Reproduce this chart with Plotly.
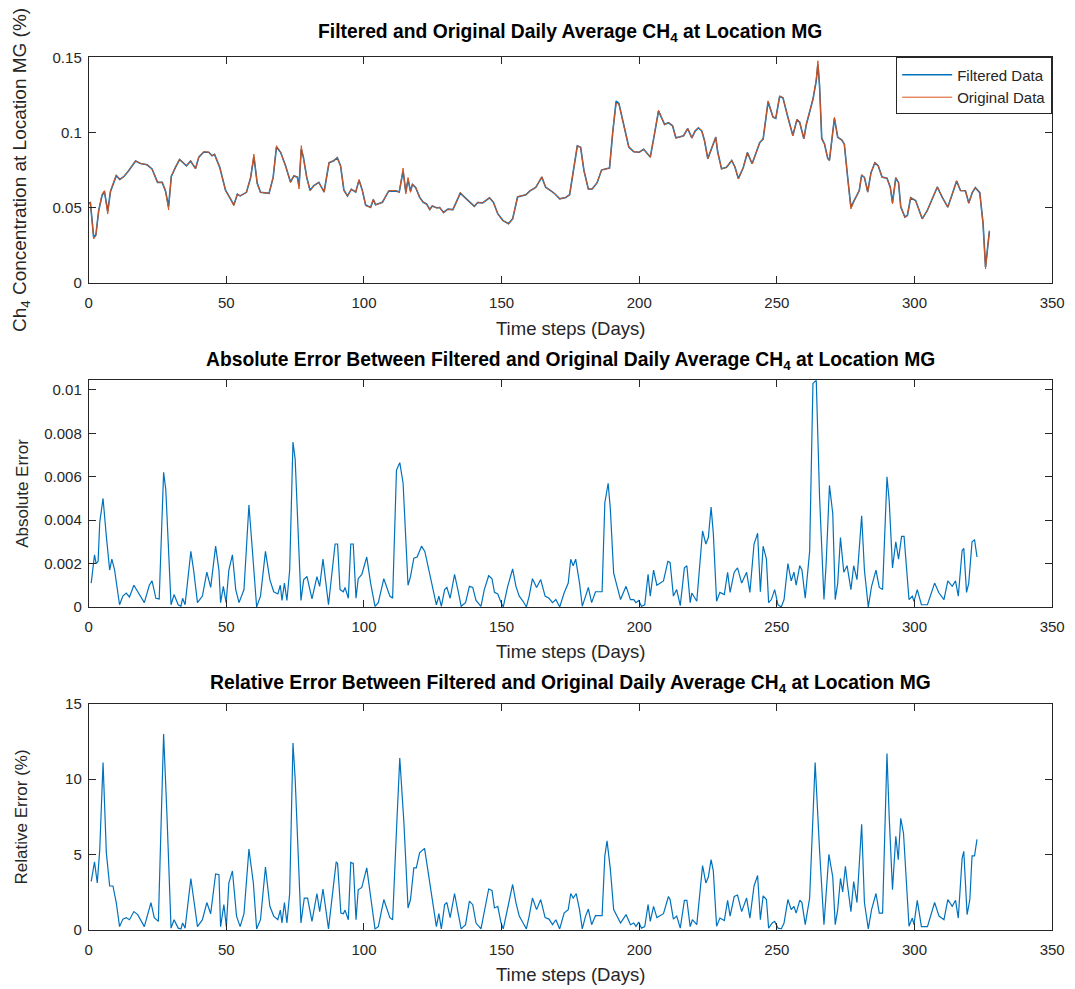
import plotly.graph_objects as go

# ---------------- data ----------------
days_top = [0, 0.6, 1.8, 2.6, 3.6, 4.8, 5.7, 6.9, 7.9, 9.1, 10, 11.3, 12.7, 14.5, 17, 18.8, 21.2, 23, 25, 26.7,
            27.9, 29, 30, 31.5, 33, 35.5, 37, 38.8, 40, 41.8, 43.6, 44.8, 45.7, 47.6, 49.7, 51.5, 52.7, 54, 55, 57.3,
            58.8, 60, 61.2, 62.4, 65.5, 67, 68.2, 69.7, 71.5, 73.3, 74.5, 75.8, 76.4, 77.2, 78, 79.2, 80.4, 81.8, 83.6, 85.5,
            87.3, 89, 90.3, 91.5, 92.7, 94, 95.4, 97, 98.2, 99.4, 100.6, 102.4, 103.4, 104.2, 106.7, 109, 111.8, 112.8, 114.2, 115.2,
            116, 116.9, 117.6, 118.8, 120.2, 121.5, 122.7, 123.9, 124.8, 126.3, 127.5, 128.9, 130.5, 132.3, 133.5, 135, 136.5, 138.3, 140.1, 141.3,
            143.1, 145.6, 147, 148.6, 150.4, 152.5, 154, 155.8, 157.6, 158.8, 160.3, 162.4, 164.6, 166, 167.8, 169.4, 171.1, 173.3, 174.7, 176.3,
            177.5, 178.7, 179.9, 181.5, 182.9, 184.7, 186.3, 187.7, 189.2, 190.4, 191.6, 192.6, 194.4, 196.2, 198, 200, 201.6, 204, 205.4, 207,
            209.2, 210.6, 212.1, 213.3, 214.9, 216.1, 217.6, 219.1, 220.3, 221.5, 222.7, 223.7, 224.9, 226.1, 227.8, 228.5, 229.9, 231.7, 233.6, 234.8,
            236, 237.8, 239.3, 241, 242.6, 243.8, 245, 246.8, 248.6, 249.6, 251, 252.2, 254, 255.8, 257.3, 258.3, 259.8, 260.7, 263.1, 264.3,
            264.9, 265.5, 266.3, 267.3, 268.5, 269.1, 270.9, 272.1, 273.6, 274.5, 275.7, 276.9, 278.1, 279.9, 280.8, 281.8, 283, 284.2, 285.6, 286.8,
            288.2, 290, 291.2, 292, 293.2, 294.2, 295, 296.5, 297.4, 298.6, 300.4, 302.8, 304.6, 306.5, 308.3, 310.1, 312.1, 313.7, 315.3, 316.7,
            318.5, 319.7, 321, 322.1, 323.7, 324.9, 325.8, 327.2]

ch4_original = [0.053, 0.0538, 0.0294, 0.0316, 0.048, 0.059, 0.0615, 0.046, 0.0615, 0.067, 0.072, 0.069, 0.0708, 0.0748, 0.0814, 0.0796, 0.0787, 0.0759, 0.067, 0.067,
                0.0615, 0.0487, 0.0714, 0.077, 0.0825, 0.078, 0.0814, 0.0759, 0.084, 0.0874, 0.087, 0.0847, 0.0858, 0.077, 0.0615, 0.056, 0.0515, 0.0593, 0.058, 0.0604,
                0.0703, 0.0858, 0.066, 0.0604, 0.0597, 0.0703, 0.0914, 0.087, 0.078, 0.067, 0.0714, 0.0708, 0.0626, 0.0914, 0.0836, 0.0703, 0.0615, 0.0648, 0.067, 0.0604,
                0.0803, 0.0814, 0.0836, 0.078, 0.0615, 0.058, 0.0626, 0.0604, 0.069, 0.0615, 0.0515, 0.0504, 0.056, 0.052, 0.0538, 0.0615, 0.0615, 0.0604, 0.0765, 0.0593,
                0.0703, 0.0604, 0.066, 0.0637, 0.057, 0.0538, 0.0527, 0.0487, 0.0515, 0.05, 0.0504, 0.0467, 0.0493, 0.0487, 0.0538, 0.0604, 0.057, 0.0538, 0.0509, 0.0538,
                0.0533, 0.057, 0.0538, 0.046, 0.0416, 0.0394, 0.0427, 0.0575, 0.0582, 0.0588, 0.0615, 0.0637, 0.0708, 0.0637, 0.0615, 0.0593, 0.056, 0.057, 0.0588, 0.077,
                0.0914, 0.0903, 0.0748, 0.0626, 0.0626, 0.067, 0.0752, 0.0759, 0.0765, 0.1013, 0.1195, 0.119, 0.1057, 0.0903, 0.0874, 0.087, 0.0891, 0.0836, 0.098, 0.115,
                0.1053, 0.1068, 0.1046, 0.0964, 0.0973, 0.098, 0.103, 0.0964, 0.1013, 0.1035, 0.1013, 0.0947, 0.0825, 0.0891, 0.0973, 0.087, 0.0759, 0.077, 0.0818, 0.077,
                0.0692, 0.077, 0.087, 0.0792, 0.087, 0.0936, 0.0958, 0.1212, 0.1102, 0.1095, 0.1245, 0.1234, 0.1102, 0.098, 0.109, 0.1068, 0.0958, 0.1057, 0.1223, 0.1356,
                0.1478, 0.1312, 0.0958, 0.0925, 0.0825, 0.0814, 0.1102, 0.0969, 0.0951, 0.0925, 0.0703, 0.0493, 0.0549, 0.0615, 0.0721, 0.0703, 0.0604, 0.0737, 0.0803, 0.0781,
                0.0703, 0.0699, 0.0637, 0.0527, 0.0703, 0.067, 0.0504, 0.0438, 0.0449, 0.057, 0.0549, 0.0427, 0.0482, 0.056, 0.0641, 0.057, 0.0504, 0.0593, 0.0681, 0.0615,
                0.0615, 0.0531, 0.0604, 0.0637, 0.0604, 0.0394, 0.0095, 0.035]

ch4_filtered = [0.053, 0.0535, 0.0305, 0.0322, 0.048, 0.058, 0.061, 0.0478, 0.061, 0.067, 0.0715, 0.069, 0.0708, 0.0748, 0.0812, 0.0796, 0.0787, 0.0759, 0.067, 0.067,
                0.0612, 0.051, 0.071, 0.077, 0.0822, 0.078, 0.0812, 0.0762, 0.0838, 0.0872, 0.087, 0.0847, 0.0856, 0.077, 0.0618, 0.056, 0.052, 0.0592, 0.058, 0.0604,
                0.070, 0.084, 0.0665, 0.0604, 0.0597, 0.0703, 0.0905, 0.087, 0.078, 0.0672, 0.0712, 0.0705, 0.0645, 0.089, 0.0836, 0.0703, 0.0618, 0.0648, 0.067, 0.0607,
                0.080, 0.0814, 0.0834, 0.078, 0.0618, 0.058, 0.0624, 0.0606, 0.0685, 0.0617, 0.052, 0.0504, 0.0555, 0.0522, 0.0538, 0.0613, 0.0612, 0.0606, 0.0745, 0.0605,
                0.069, 0.0612, 0.0656, 0.0635, 0.0572, 0.0538, 0.0527, 0.049, 0.0513, 0.0502, 0.0503, 0.047, 0.0492, 0.0489, 0.0536, 0.0598, 0.0572, 0.0538, 0.0511, 0.0536,
                0.0534, 0.0568, 0.0538, 0.0462, 0.0418, 0.0396, 0.0428, 0.0573, 0.0582, 0.0588, 0.0614, 0.0637, 0.0705, 0.0638, 0.0615, 0.0593, 0.0561, 0.057, 0.0588, 0.0768,
                0.0912, 0.0903, 0.075, 0.0626, 0.0626, 0.0668, 0.0752, 0.0759, 0.0765, 0.1008, 0.121, 0.1195, 0.1055, 0.0905, 0.0874, 0.087, 0.089, 0.0838, 0.0978, 0.1144,
                0.1055, 0.1066, 0.1046, 0.0966, 0.0973, 0.098, 0.1027, 0.0966, 0.1011, 0.1033, 0.1012, 0.0948, 0.0828, 0.0889, 0.097, 0.0872, 0.076, 0.077, 0.0816, 0.0771,
                0.0695, 0.0769, 0.0868, 0.0794, 0.0868, 0.0935, 0.0958, 0.1205, 0.1104, 0.1096, 0.124, 0.1232, 0.1103, 0.0982, 0.1087, 0.1068, 0.096, 0.1055, 0.1222, 0.1345,
                0.1455, 0.1315, 0.0962, 0.0925, 0.0828, 0.0818, 0.1095, 0.097, 0.0951, 0.0924, 0.0706, 0.0505, 0.055, 0.0614, 0.0718, 0.0703, 0.0608, 0.0735, 0.08, 0.0781,
                0.0705, 0.0698, 0.0638, 0.0535, 0.07, 0.0668, 0.0508, 0.044, 0.045, 0.0568, 0.055, 0.0428, 0.0482, 0.056, 0.0639, 0.0571, 0.0506, 0.0592, 0.0679, 0.0616,
                0.0614, 0.0533, 0.0603, 0.0635, 0.0602, 0.0398, 0.0108, 0.0345]

days_abs = [0.9, 2.1, 2.7, 3.4, 4.0, 5.2, 6.4, 7.6, 8.4, 9.4, 11.2, 12.4, 13.6, 14.8, 16.4, 17.8, 20.2, 22, 23, 24.4,
            25.6, 27.2, 28, 29.9, 31, 32.5, 33.5, 34.1, 35, 37.1, 38.1, 39.5, 41.3, 42.9, 44.3, 46.1, 47.3, 47.9, 48.9, 49.9,
            50.9, 52.2, 53.4, 54.6, 56.4, 58.2, 59.4, 61, 62.4, 64.2, 65.8, 67.2, 68.7, 69.6, 70.2, 71.1, 72, 73, 74.2, 75,
            77.1, 78.1, 79.3, 81.1, 82.9, 83.9, 85.1, 87.1, 89.5, 90.4, 91.3, 92.5, 93.1, 94.3, 95.2, 96.1, 97.1, 97.9, 99.2, 101,
            102.4, 104, 105.2, 107.2, 109.4, 110.4, 111.8, 113, 114.2, 116, 116.9, 118.1, 119.3, 120.9, 122.1, 123.9, 125.3, 126.3, 127.2, 128.1,
            129.3, 130.1, 131.3, 132.9, 134.1, 135.3, 136.9, 138.3, 139.5, 140.7, 142.5, 143.7, 145.3, 146.5, 147.4, 148.6, 149.8, 150.6, 152.2, 154,
            155.2, 156.4, 157.8, 159, 160, 161.2, 162.7, 164.2, 165.8, 167.2, 168.5, 169.7, 171.1, 172.7, 174.2, 175.1, 176, 176.9, 178.3, 179.3,
            180.5, 181.5, 182.7, 184.1, 186.5, 187.5, 188.7, 189.5, 190.7, 192, 193.2, 195.2, 196.8, 198, 198.8, 199.8, 200.8, 202, 203.2, 204,
            205.2, 206.4, 208.8, 210.4, 211.2, 212.4, 213.6, 214.9, 216.4, 217.3, 218.5, 219.1, 220.9, 223, 224.2, 225.1, 226.1, 226.9, 228.1, 229.3,
            230.9, 232.1, 233, 234.5, 235.7, 237.2, 239, 240.2, 241.7, 243, 244, 245, 246.2, 247, 248, 249.2, 250.4, 251.6, 252.6, 254,
            255.2, 256.2, 257, 258.3, 259.1, 260.3, 261.9, 263.1, 264.3, 265.5, 267.1, 267.9, 269.1, 270.3, 271.2, 272.1, 273.1, 274.3, 275.5, 276.9,
            277.9, 279.1, 280.8, 281.8, 283.2, 284.4, 286, 287.2, 288.4, 290, 290.8, 292, 293.2, 294.2, 295.3, 296.2, 298, 299.2, 299.8, 301,
            302.5, 304.7, 307.3, 308.9, 310.7, 312.1, 313.7, 314.9, 315.9, 317.3, 317.9, 318.9, 319.7, 320.9, 321.8, 322.7]

abs_error = [0.0011, 0.0024, 0.002, 0.0021, 0.0039, 0.005, 0.00325, 0.0017, 0.0022, 0.0017, 0.0001, 0.0005, 0.00064, 0.00046, 0.001, 0.0007, 0.0002, 0.001, 0.0012, 0.0004,
             0.00037, 0.0062, 0.0054, 0.0001, 0.00057, 0.0001, 0.00003, 0.0004, 0.0001, 0.00256, 0.0017, 0.0002, 0.0005, 0.0016, 0.0009, 0.0028, 0.0017, 0.0002, 0.00095, 0.0002,
             0.0017, 0.0024, 0.0008, 0.0002, 0.0008, 0.0047, 0.00248, 0.0, 0.0005, 0.00256, 0.00126, 0.0007, 0.0006, 0.001, 0.0003, 0.0011, 0.0003, 0.0017, 0.0076, 0.0068,
             0.0003, 0.00126, 0.0014, 0.00037, 0.0014, 0.00095, 0.0022, 0.0001, 0.0029, 0.0029, 0.0008, 0.0007, 0.0009, 0.0004, 0.0029, 0.0029, 0.0004, 0.0013, 0.0015, 0.0023,
             0.0011, 0.00003, 0.0002, 0.0013, 0.0005, 0.0004, 0.0063, 0.00665, 0.0057, 0.001, 0.0014, 0.00225, 0.0023, 0.0028, 0.00256, 0.00156, 0.0008, 0.0001, 0.0005, 0.00003,
             0.0008, 0.0009, 0.0004, 0.0015, 0.0008, 0.00003, 0.0002, 0.00095, 0.0009, 0.0003, 0.00003, 0.0008, 0.00144, 0.0013, 0.00067, 0.0006, 0.0002, 0.0, 0.00095, 0.00175,
             0.00095, 0.0005, 0.00026, 0.0, 0.0005, 0.0013, 0.0009, 0.00126, 0.0005, 0.0004, 0.0002, 0.00034, 0.0, 0.00064, 0.0011, 0.0022, 0.0019, 0.0022, 0.0011, 0.00003,
             0.0005, 0.0009, 0.0002, 0.0007, 0.0007, 0.0048, 0.0057, 0.0045, 0.00156, 0.00095, 0.00034, 0.00095, 0.00034, 0.00034, 0.0002, 0.0003, 0.00003, 0.0001, 0.0015, 0.0005,
             0.0017, 0.001, 0.0012, 0.0021, 0.00205, 0.0005, 0.0008, 0.00006, 0.0018, 0.0019, 0.0002, 0.00064, 0.00026, 0.0035, 0.0029, 0.0032, 0.0046, 0.0034, 0.00026, 0.00067,
             0.00057, 0.0016, 0.00067, 0.0016, 0.0018, 0.0011, 0.0016, 0.00067, 0.0029, 0.0034, 0.0007, 0.0028, 0.0022, 0.0002, 0.00034, 0.0008, 0.0001, 0.0, 0.00034, 0.002,
             0.0012, 0.0016, 0.001, 0.0019, 0.0017, 0.0004, 0.00256, 0.0103, 0.01045, 0.0051, 0.00034, 0.002, 0.0056, 0.0043, 0.00034, 0.0011, 0.0032, 0.0016, 0.0019, 0.0008,
             0.0019, 0.00126, 0.0042, 0.0017, 0.0, 0.00095, 0.0017, 0.0009, 0.0008, 0.006, 0.0049, 0.0018, 0.003, 0.0022, 0.00325, 0.00325, 0.00034, 0.0005, 0.00026, 0.0008,
             0.0001, 0.0001, 0.0011, 0.00064, 0.00034, 0.0012, 0.00095, 0.0012, 0.0005, 0.0026, 0.0027, 0.00067, 0.0011, 0.003, 0.0031, 0.0023]

days_rel = [0.9, 2.1, 3.1, 4.0, 5.2, 6.4, 7.6, 8.8, 10, 11.2, 12.4, 13.6, 14.8, 16.4, 17.8, 20.2, 22.6, 23.8, 25.3, 27.2,
            28.4, 29.9, 31, 32.5, 33.5, 34.1, 35, 37.1, 38.3, 39.5, 41.3, 42.9, 44.3, 46.1, 47.3, 47.9, 49.1, 50, 50.9, 52.2,
            53.7, 55, 56.4, 58.2, 59.8, 61, 62.4, 64.2, 65.8, 67.2, 68.7, 69.6, 70.2, 71.1, 72, 73, 74.2, 75, 77.1, 78.3,
            79.5, 81.1, 82.9, 83.9, 85.1, 87.1, 89.9, 90.4, 91.6, 92.5, 93.1, 94.3, 95.2, 96.1, 97.1, 97.9, 99.2, 101, 102.4, 104,
            105.2, 107.2, 109.4, 110.4, 111.8, 113, 114.5, 116, 116.9, 118.1, 119, 120.2, 122, 123.9, 125.1, 126.3, 127.2, 128.1, 129.3, 130.1,
            131.3, 132.9, 134.1, 135.3, 136.9, 138.3, 139.5, 140.7, 142.5, 143.7, 145.3, 146.5, 147.4, 148.6, 149.8, 150.6, 152.2, 154, 155.2, 156.4,
            157.8, 159, 160, 161.2, 162.7, 164.2, 165.8, 167.2, 168.5, 169.7, 171.1, 172.7, 174.2, 175.1, 176, 177.1, 178.3, 179.3, 180.5, 181.5,
            182.7, 184.1, 186.5, 187.5, 188.3, 189.5, 190.7, 192, 193.2, 195.2, 196.8, 198, 198.8, 199.8, 200.8, 202, 203.2, 204, 205.2, 206.4,
            208.8, 210.6, 211.2, 212.4, 213.6, 214.9, 216.4, 217.3, 218.5, 219.3, 220.9, 223, 224.2, 225.1, 226.1, 226.9, 228.1, 229.3, 230.9, 232.1,
            233, 234.5, 235.7, 237.2, 239, 240.2, 241.7, 243, 244, 245, 246.2, 247, 248.3, 249.2, 250.4, 251.6, 252.6, 254, 255.2, 256.2,
            257, 258.3, 259.1, 260.3, 261.9, 263.1, 263.9, 265.5, 267.1, 267.9, 268.9, 270.3, 271.2, 272.1, 273.1, 273.9, 274.9, 275.7, 276.9, 277.9,
            279.1, 280.8, 281.8, 283.2, 284.4, 286, 287.2, 288.4, 290, 290.8, 292, 293.2, 294.1, 295, 296, 298, 299.2, 299.8, 301, 302.5,
            304.7, 307.3, 308.9, 310.7, 312.1, 313.7, 314.9, 315.9, 317.3, 317.9, 319.1, 320.1, 320.9, 321.8, 322.7]

rel_error = [3.2, 4.5, 3.1, 5.3, 11.1, 5.1, 2.9, 2.9, 1.8, 0.2, 0.7, 0.8, 0.66, 1.2, 1.0, 0.2, 1.8, 0.8, 0.55, 13.0,
             7.7, 0.1, 0.66, 0.1, 0.05, 0.44, 0.1, 3.4, 1.8, 0.2, 0.66, 1.8, 1.06, 3.7, 3.65, 0.2, 1.66, 0.2, 3.1, 3.9,
             0.9, 0.2, 1.06, 5.35, 3.1, 0.05, 0.66, 4.16, 1.55, 0.9, 0.66, 1.3, 0.44, 1.8, 0.44, 2.4, 12.4, 10.0, 0.44, 2.1,
             2.1, 0.55, 2.4, 1.2, 2.7, 0.05, 4.5, 4.4, 1.1, 1.06, 1.3, 0.66, 4.47, 4.4, 0.66, 2.65, 2.8, 4.1, 2.2, 0.05,
             0.2, 2.0, 0.8, 0.66, 6.6, 11.4, 7.1, 1.44, 2.0, 4.1, 4.1, 5.1, 5.4, 3.1, 1.8, 0.2, 1.06, 0.05, 1.66, 1.8,
             0.8, 2.4, 1.2, 0.05, 0.33, 1.9, 1.66, 0.44, 0.05, 1.2, 2.7, 2.6, 1.44, 1.55, 0.44, 0.05, 1.44, 3.0, 1.8, 0.9,
             0.44, 0.05, 0.9, 2.1, 1.33, 2.0, 0.8, 0.7, 0.33, 0.66, 0.05, 1.1, 1.33, 2.4, 2.1, 2.4, 1.33, 0.05, 0.9, 1.37,
             0.33, 0.93, 0.93, 4.9, 5.9, 4.0, 1.33, 0.9, 0.44, 1.0, 0.33, 0.44, 0.22, 0.5, 0.1, 0.2, 1.66, 0.55, 1.55, 0.8,
             1.06, 2.2, 2.0, 0.7, 0.9, 0.1, 1.95, 1.95, 0.2, 0.66, 0.33, 4.25, 3.1, 3.5, 4.65, 3.9, 0.22, 0.77, 0.6, 1.95,
             0.9, 2.2, 2.3, 1.2, 2.1, 0.77, 2.9, 3.6, 0.66, 2.25, 2.0, 0.1, 0.44, 0.55, 0.1, 0.05, 0.44, 2.0, 1.33, 1.55,
             1.1, 1.95, 1.8, 0.33, 2.1, 7.5, 11.1, 5.3, 0.33, 2.4, 5.0, 3.5, 0.33, 1.33, 3.4, 2.5, 4.2, 2.9, 1.2, 3.2,
             1.8, 7.0, 1.8, 0.05, 1.33, 2.4, 1.1, 1.1, 11.7, 7.5, 2.65, 6.2, 4.65, 7.4, 6.4, 0.22, 0.77, 0.33, 1.95, 0.2,
             0.2, 1.8, 0.9, 0.66, 2.0, 1.55, 1.95, 0.77, 4.75, 5.2, 1.0, 2.0, 4.9, 4.9, 6.0]

x_ticks = [0, 50, 100, 150, 200, 250, 300, 350]
y1_ticks = [0, 0.05, 0.1, 0.15]
y1_labels = ["0", "0.05", "0.1", "0.15"]
y2_ticks = [0, 0.002, 0.004, 0.006, 0.008, 0.01]
y2_labels = ["0", "0.002", "0.004", "0.006", "0.008", "0.01"]
y3_ticks = [0, 5, 10, 15]
y3_labels = ["0", "5", "10", "15"]

# ---------------- figure ----------------
# Calibration between figure pixels and the final picture: pic = OFF + S * fig
S = 0.984
OFF_X, OFF_Y = 3.3, 8.5
W, H = 1091, 1005
BLUE = "#0072BD"
ORANGE = "#D95319"
AX = "#262626"
FONT = "Liberation Sans, Arial, Helvetica, sans-serif"


def fx(px):
    return ((px - OFF_X) / S) / W


def fy(py):
    return 1 - ((py - OFF_Y) / S) / H


fig = go.Figure()
fig.add_trace(go.Scatter(x=days_top, y=ch4_filtered, mode="lines", name="Filtered Data",
                         line=dict(color=BLUE, width=1.6), xaxis="x", yaxis="y"))
fig.add_trace(go.Scatter(x=days_top, y=ch4_original, mode="lines", name="Original Data",
                         line=dict(color=ORANGE, width=1.0), xaxis="x", yaxis="y"))
fig.add_trace(go.Scatter(x=days_abs, y=abs_error, mode="lines", showlegend=False,
                         line=dict(color=BLUE, width=1.2), xaxis="x2", yaxis="y2"))
fig.add_trace(go.Scatter(x=days_rel, y=rel_error, mode="lines", showlegend=False,
                         line=dict(color=BLUE, width=1.2), xaxis="x3", yaxis="y3"))

xdom = [fx(88), fx(1051)]
rows = [(57, 283), (380, 607), (704, 930)]
doms = [[fy(b), fy(t)] for t, b in rows]


def xax(anchor):
    return dict(domain=xdom, anchor=anchor, range=[0, 350], tickvals=x_ticks,
                ticks="inside", ticklen=7, tickcolor=AX, showline=True, linecolor=AX, linewidth=1,
                mirror="allticks", showgrid=False, zeroline=False, ticklabelstandoff=6,
                tickfont=dict(size=15, color=AX, family=FONT))


def yax(anchor, dom, rng, tv, tt):
    return dict(domain=dom, anchor=anchor, range=rng, tickvals=tv, ticktext=tt,
                ticks="inside", ticklen=7, tickcolor=AX, showline=True, linecolor=AX, linewidth=1,
                mirror="allticks", showgrid=False, zeroline=False, ticklabelstandoff=3,
                tickfont=dict(size=15, color=AX, family=FONT))


fig.update_layout(
    width=W, height=H,
    margin=dict(l=0, r=0, t=0, b=0),
    paper_bgcolor="white", plot_bgcolor="white",
    font=dict(family=FONT, color=AX),
    xaxis=xax("y"),
    yaxis=yax("x", doms[0], [0, 0.15], y1_ticks, y1_labels),
    xaxis2=xax("y2"),
    yaxis2=yax("x2", doms[1], [0, 0.01045], y2_ticks, y2_labels),
    xaxis3=xax("y3"),
    yaxis3=yax("x3", doms[2], [0, 15], y3_ticks, y3_labels),
    legend=dict(x=fx(1051), y=fy(57), xanchor="right", yanchor="top",
                bgcolor="white", bordercolor=AX, borderwidth=1, itemwidth=50,
                font=dict(size=15, color=AX, family=FONT), tracegroupgap=0),
    showlegend=True,
)

titles = [
    ("Filtered and Original Daily Average CH<sub>4</sub> at Location MG", 33),
    ("Absolute Error Between Filtered and Original Daily Average CH<sub>4</sub> at Location MG", 361),
    ("Relative Error Between Filtered and Original Daily Average CH<sub>4</sub> at Location MG", 684),
]
for txt, yc in titles:
    fig.add_annotation(text="<b>" + txt + "</b>", x=fx((88 + 1051) / 2), y=fy(yc),
                       xref="paper", yref="paper", showarrow=False, xanchor="center", yanchor="middle",
                       font=dict(size=19.3, color="black", family=FONT))

for yc in (328, 652, 975):
    fig.add_annotation(text="Time steps (Days)", x=fx((88 + 1051) / 2), y=fy(yc),
                       xref="paper", yref="paper", showarrow=False, xanchor="center", yanchor="middle",
                       font=dict(size=18.5, color=AX, family=FONT))

ylabels = [
    ("Ch<sub>4</sub> Concentration at Location MG (%)", 170, 19),
    ("Absolute Error", 493, 17),
    ("Relative Error (%)", 817, 17),
]
for txt, yc, fs in ylabels:
    fig.add_annotation(text=txt, x=fx(21), y=fy(yc), xref="paper", yref="paper",
                       showarrow=False, textangle=-90, xanchor="center", yanchor="middle",
                       font=dict(size=fs, color=AX, family=FONT))

fig.write_html("out.html")
